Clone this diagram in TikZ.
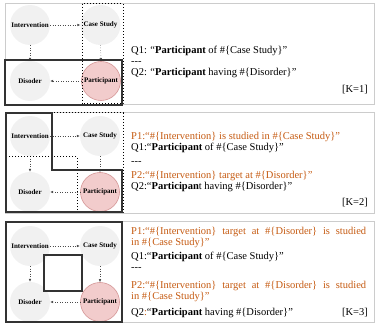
\documentclass[tikz,border=0pt]{standalone}
\usepackage{fontspec}
\setmainfont{Liberation Serif}
\usetikzlibrary{arrows.meta}

\definecolor{ptext}{RGB}{197,90,17}
\definecolor{varfill}{RGB}{241,241,241}
\definecolor{hitfill}{RGB}{242,204,204}
\definecolor{hitdraw}{RGB}{212,150,150}

\begin{document}
\begin{tikzpicture}[x=1pt, y=-1pt,
  var/.style={circle, minimum size=40pt, inner sep=0pt, fill=varfill, font=\fontsize{7}{8}\selectfont\bfseries},
  hit/.style={var, minimum size=39pt, fill=hitfill, draw=hitdraw, line width=.6pt},
  link/.style={dotted, black!70, line width=.5pt, -{Latex[length=3pt, width=2.6pt]}},
  panel/.style={draw=black!20, line width=.8pt},
  pathbox/.style={draw=black!80, line width=1.2pt},
  altbox/.style={draw=black, dotted, line width=1pt},
  qline/.style={anchor=west, inner sep=0pt, font=\fontsize{10.5}{12}\selectfont},
  pline/.style={qline, text=ptext},
  kline/.style={anchor=east, inner sep=0pt, font=\fontsize{10.5}{12}\selectfont}]

\useasboundingbox (0,0) rectangle (375,326);

\draw [panel] (5,3) rectangle (374,104);
\draw [panel] (5,112) rectangle (374,213);
\draw [panel] (5,221) rectangle (374,322);



\node [var] (i1) at (30,25) {Intervention};
\node [var] (c1) at (100.5,25) {Case Study};
\node [var] (d1) at (30,81) {Disoder};
\node [hit] (p1) at (101,81) {Participant};
\draw [link] (i1) -- (c1);
\draw [link] (i1) -- (d1);
\draw [link] (c1) -- (p1);
\draw [link] (p1) -- (d1);

\draw [altbox] (82,4) rectangle (123,104);
\draw [pathbox] (5,60) rectangle (122,105);

\node [qline] (q11) at (131,51) {Q1: “\textbf{Participant} of \#\{Case Study\}”};
\node [qline] (s1) at (131,63) {-{}-{}-};
\node [qline] (q12) at (131,73) {Q2: “\textbf{Participant} having \#\{Disorder\}”};
\node [kline] (k1) at (368,90) {[K=1]};



\node [var] (i2) at (30,136) {Intervention};
\node [var] (c2) at (100,136) {Case Study};
\node [var] (d2) at (30,192) {Disoder};
\node [hit] (p2) at (100,192) {Participant};
\draw [link] (i2) -- (c2);
\draw [link] (i2) -- (d2);
\draw [link] (c2) -- (p2);
\draw [link] (p2) -- (d2);

\draw [altbox] (6,113) -- (123,113) -- (123,212) -- (77,212) -- (77,157) -- (6,157);
\draw [pathbox] (6,113) -- (52,113) -- (52,170) -- (122,170) -- (122,212) -- (6,212) -- cycle;

\node [pline] (p21) at (131,137) {P1:“\#\{Intervention\} is studied in \#\{Case Study\}”};
\node [qline] (q21) at (131,148) {Q1:“\textbf{Participant} of \#\{Case Study\}”};
\node [qline] (s2) at (131,163) {-{}-{}-};
\node [pline] (p22) at (131,176) {P2:“\#\{Intervention\} target at \#\{Disorder\}”};
\node [qline] (q22) at (131,187) {Q2:“\textbf{Participan}t having \#\{Disorder\}”};
\node [kline] (k2) at (368,203) {[K=2]};



\node [var] (i3) at (30,246) {Intervention};
\node [var] (c3) at (100,246) {Case Study};
\node [var] (d3) at (30,302) {Disoder};
\node [hit] (p3) at (100,302) {Participant};
\draw [link] (i3) -- (c3);
\draw [link] (i3) -- (d3);
\draw [link] (c3) -- (p3);
\draw [link] (p3) -- (d3);

\draw [pathbox] (6,222) rectangle (122,322);
\draw [pathbox] (44,255) rectangle (82,291);

\node [pline] (p31) at (131,232) {\makebox[235pt][s]{P1:“\#\{Intervention\} target at \#\{Disorder\} is studied}};
\node [pline] (p31b) at (131,243) {in \#\{Case Study\}”};
\node [qline] (q31) at (131,257) {Q1:“\textbf{Participant} of \#\{Case Study\}”};
\node [qline] (s3) at (131,269) {-{}-{}-};
\node [pline] (p32) at (131,286) {\makebox[235pt][s]{P2:“\#\{Intervention\} target at \#\{Disorder\} is studied}};
\node [pline] (p32b) at (131,297) {in \#\{Case Study\}”};
\node [qline] (q32) at (131,313) {Q2\textcolor{ptext}{:}“\textbf{Participant} having \#\{Disorder\}”};
\node [kline] (k3) at (368,313) {[K=3]};

\end{tikzpicture}
\end{document}
